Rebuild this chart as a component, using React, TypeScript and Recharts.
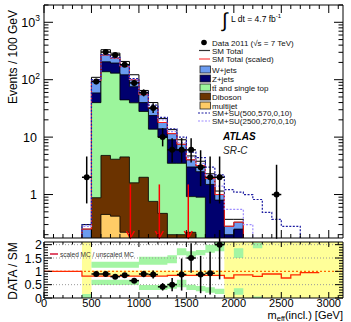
import React from 'react';
import { ComposedChart, Area, Line, Scatter, XAxis, YAxis, ErrorBar, ReferenceLine } from 'recharts';

const FONT = '"Liberation Sans", Arial, Helvetica, sans-serif';

// ---------- data ----------
// histogram bin lower edges (GeV), 100 GeV bins
const histEdges = [0, 100, 200, 300, 400, 500, 600, 700, 800, 900, 1000, 1100, 1200, 1300, 1400, 1500, 1600, 1700, 1800, 1900, 2000, 2100, 2200, 2300, 2400, 2500, 2600, 2700, 2800, 2900, 3000, 3100, 3200];

// MC components, bins starting at 400 GeV
const FIRST_BIN = 400;
const multijet = [0, 0, 0.45, 0.42, 0.22, 0, 0, 0, 0, 0, 0, 0, 0, 0, 0, 0, 0];
const diboson = [0, 0.88, 4.35, 3.7, 4.3, 1.6, 2.0, 0.76, 0.47, 0.2, 0.2, 0.22, 0, 0, 0, 0, 0];
const ttbar = [0, 39, 133, 126, 40, 38, 26, 13, 9.5, 3.3, 3.3, 0.7, 0.9, 0, 0, 0, 0];
const zjets = [0, 19, 67, 65, 77, 36, 12, 10, 4, 5.5, 2.5, 2.1, 1.6, 1.5, 0.8, 0.2, 0.25];
const wjets = [0.25, 36, 65, 43, 48, 24, 15, 8, 4, 2.5, 1.5, 1.0, 0.7, 0.4, 0.2, 0.08, 0.08];
const smTotal = [0.3, 110, 333, 290, 208, 122, 65, 40, 21, 13.5, 9, 4.7, 3.8, 2.3, 1.15, 0.37, 0.37];
const su500 = [0.3, 100, 275, 245, 175, 105, 60, 36, 22, 14, 10, 5.5, 4.4, 3.0, 2.2, 1.22, 1.1, 1.0, 0.82, 0.49, 0.37, 0.28, 0.28];
const su2500 = [0.28, 97, 272, 240, 172, 102, 57, 34, 20, 12.5, 8, 4.4, 3.5, 2.2, 1.4, 0.55, 0.55, 0.3];

// data points
const dataCenter = [450, 550, 650, 750, 850, 950, 1050, 1150, 1250, 1350, 1450, 1550, 1650, 1750, 1850, 2450];
const dataCount = [2, 93, 303, 270, 182, 88, 59, 32, 10, 6, 6, 6, 3, 2, 2, 1];
const dataErrDown = [1.3, 9.6, 17, 16, 13, 9.4, 7.7, 5.6, 3.1, 2.4, 2.4, 2.4, 1.6, 1.3, 1.3, 0.83];
const dataErrUp = [2.6, 10.7, 18, 17, 14, 10.4, 8.7, 6.7, 4.3, 3.6, 3.6, 3.6, 2.9, 2.6, 2.6, 2.3];

// red arrows
const arrowX = [910, 1215, 1520];
const arrowTop = [1.5, 1.5, 1.5];

// ratio panel
const ratioCenter = [550, 650, 750, 850, 950, 1050, 1150, 1250, 1350, 1450, 1550, 1650, 1750, 1850];
const ratioValue = [0.9, 0.9, 0.8, 0.85, 0.65, 0.9, 0.88, 0.42, 0.5, 0.88, 1.5, 0.88, 0.93, 2.0];
const ratioErr = [0.08, 0.05, 0.05, 0.06, 0.07, 0.12, 0.15, 0.14, 0.25, 0.6, 0.55, 0.7, 0.8, 1.3];
// scaled MC / unscaled MC, bins from 0 GeV
const ratioScale = [1, 1, 1, 1, 0.82, 0.82, 0.82, 0.82, 0.82, 0.82, 0.82, 0.82, 0.82, 0.85, 0.85, 0.85, 0.85, 0.85, 0.85, 0.75, 0.87, 0.87, 0.81, 0.9, 0.9, 0.75, 0.87, 0.95, 0.95];
// uncertainty bands, bins from 400 GeV
const yellowLo = [0, 0.82, 0.82, 0.82, 0.82, 0.82, 0.82, 0.82, 0.82, 0.82, 0.82, 0.82, 0.82, 0.82, 0.82, 0, 0, 0, 0, 0, 0, 0, 0, 0, 0, 0, 0, 0, 0];
const yellowHi = [2.1, 1.03, 1.03, 1.03, 1.03, 1.03, 1.03, 1.03, 1.03, 1.03, 1.03, 1.03, 1.03, 1.03, 1.03, 2.1, 2.1, 2.1, 2.1, 2.1, 2.1, 2.1, 2.1, 2.1, 2.1, 2.1, 2.1, 2.1, 2.1];
const greenUpLo = [0, 1.13, 1.13, 1.13, 1.13, 1.13, 1.25, 1.25, 1.25, 1.3, 1.6, 1.55, 1.6, 1.7, 1.75, 0, 1.5, 0, 1.87, 0, 0, 0, 0, 0, 0, 0, 0, 0, 0];
const greenUpHi = [0, 1.36, 1.36, 1.36, 1.36, 1.36, 1.55, 1.55, 1.55, 1.6, 1.87, 1.75, 1.8, 2.0, 2.1, 0, 1.87, 0, 2.06, 0, 0, 0, 0, 0, 0, 0, 0, 0, 0];
const greenDnLo = [0, 0.49, 0.49, 0.49, 0.49, 0.49, 0.3, 0.3, 0.3, 0.35, 0.4, 0.3, 0.25, 0.2, 0.15, 0, 0.12, 0, 0, 0, 0, 0, 0, 0, 0, 0, 0, 0, 0];
const greenDnHi = [0.15, 0.68, 0.68, 0.68, 0.68, 0.68, 0.49, 0.49, 0.49, 0.55, 0.68, 0.5, 0.45, 0.4, 0.35, 0, 0.37, 0, 0.06, 0, 0, 0, 0, 0, 0, 0, 0, 0, 0];

// axis ticks
const xMajorTicks = [0, 500, 1000, 1500, 2000, 2500, 3000];
const xTicks = [0, 100, 200, 300, 400, 500, 600, 700, 800, 900, 1000, 1100, 1200, 1300, 1400, 1500, 1600, 1700, 1800, 1900, 2000, 2100, 2200, 2300, 2400, 2500, 2600, 2700, 2800, 2900, 3000, 3100];
const logMajorTicks = [1, 10, 100, 1000];
const logLabelBase = ['1', '10', '10', '10'];
const logLabelExp = ['', '', '2', '3'];
const logTicks = [0.2, 0.3, 0.4, 0.5, 0.6, 0.7, 0.8, 0.9, 1, 2, 3, 4, 5, 6, 7, 8, 9, 10, 20, 30, 40, 50, 60, 70, 80, 90, 100, 200, 300, 400, 500, 600, 700, 800, 900, 1000, 2000];
const ratioMajorTicks = [0, 0.5, 1, 1.5, 2];
const ratioLabels = ['0', '0.5', '1', '1.5', '2'];
const ratioTicks = [0, 0.1, 0.2, 0.3, 0.4, 0.5, 0.6, 0.7, 0.8, 0.9, 1, 1.1, 1.2, 1.3, 1.4, 1.5, 1.6, 1.7, 1.8, 1.9, 2];

// ---------- colours ----------
const C_W = '#6b9bf0';
const C_Z = '#00006e';
const C_TT = '#9cf59c';
const C_DB = '#6b3300';
const C_MJ = '#ffcc66';
const C_YEL = '#ffff99';
const C_GRN = '#a3f5a3';

// ---------- tables ----------
const HIDDEN = 0.01;
const at = (arr: number[], x: number) => {
  const i = (x - FIRST_BIN) / 100;
  return i >= 0 && i < arr.length ? arr[i] : 0;
};
const pos = (v: number) => (v > 0 ? v : HIDDEN);

const mainRows = histEdges.map((x) => {
  const c1 = at(multijet, x);
  const c2 = c1 + at(diboson, x);
  const c3 = c2 + at(ttbar, x);
  const c4 = c3 + at(zjets, x);
  const c5 = c4 + at(wjets, x);
  return {
    x,
    multijet: pos(c1),
    diboson: pos(c2),
    ttbar: pos(c3),
    zjets: pos(c4),
    wjets: pos(c5),
    smTotal: pos(at(smTotal, x)),
    su500: pos(at(su500, x)),
    su2500: pos(at(su2500, x)),
  };
});

const dataPoints = dataCenter.map((x, i) => ({
  x,
  y: dataCount[i],
  ey: [dataErrDown[i], dataErrUp[i]],
  ex: 50,
}));

const ratioRows = histEdges.map((x) => {
  const k = x / 100;
  const scale = k < ratioScale.length ? ratioScale[k] : k === ratioScale.length ? ratioScale[k - 1] : null;
  const b = (x - FIRST_BIN) / 100;
  const ok = b >= 0 && b < yellowLo.length;
  return {
    x,
    scale,
    yellow: ok ? [yellowLo[b], yellowHi[b]] : [0, 0],
    gUp: ok ? [greenUpLo[b], greenUpHi[b]] : [0, 0],
    gDn: ok ? [greenDnLo[b], greenDnHi[b]] : [0, 0],
  };
});

const ratioPoints = ratioCenter.map((x, i) => ({ x, y: ratioValue[i], ey: ratioErr[i], ex: 50 }));

// ---------- ticks ----------
const isXMajor = (v: number) => xMajorTicks.includes(v);
const isRatioMajor = (v: number) => ratioMajorTicks.some((m) => Math.abs(m - v) < 1e-6);

const bottomTickMain = (p: any) => {
  const len = isXMajor(p.payload.value) ? 8 : 4;
  return <line x1={p.x} x2={p.x} y1={p.y} y2={p.y - len} stroke="#000" strokeWidth={1} />;
};
const topTick = (p: any) => {
  const len = isXMajor(p.payload.value) ? 8 : 4;
  return <line x1={p.x} x2={p.x} y1={p.y} y2={p.y + len} stroke="#000" strokeWidth={1} />;
};
const topTickRatio = (p: any) => {
  const len = isXMajor(p.payload.value) ? 5 : 2.5;
  return <line x1={p.x} x2={p.x} y1={p.y} y2={p.y + len} stroke="#000" strokeWidth={1} />;
};
const bottomTickRatio = (p: any) => {
  const v = p.payload.value;
  const major = isXMajor(v);
  return (
    <g>
      <line x1={p.x} x2={p.x} y1={p.y} y2={p.y - (major ? 6 : 3)} stroke="#000" strokeWidth={1} />
      {major && (
        <text x={p.x} y={p.y + 9} textAnchor="middle" fontSize={11} fontFamily={FONT} fill="#000">
          {String(v)}
        </text>
      )}
    </g>
  );
};
const logLeftTick = (p: any) => {
  const v = p.payload.value;
  const idx = logMajorTicks.indexOf(v);
  const major = idx >= 0;
  return (
    <g>
      <line x1={p.x} x2={p.x + (major ? 9 : 4.5)} y1={p.y} y2={p.y} stroke="#000" strokeWidth={1} />
      {major && (
        <text x={logLabelExp[idx] ? p.x - 4 : p.x - 7} y={p.y + 4.5} textAnchor="end" fontSize={12.5} fontFamily={FONT} fill="#000">
          {logLabelBase[idx]}
          {logLabelExp[idx] && (
            <tspan dy={-5.5} fontSize={8.5}>
              {logLabelExp[idx]}
            </tspan>
          )}
        </text>
      )}
    </g>
  );
};
const logRightTick = (p: any) => {
  const major = logMajorTicks.includes(p.payload.value);
  return <line x1={p.x} x2={p.x - (major ? 9 : 4.5)} y1={p.y} y2={p.y} stroke="#000" strokeWidth={1} />;
};
const ratioLeftTick = (p: any) => {
  const v = p.payload.value;
  const major = isRatioMajor(v);
  const idx = ratioMajorTicks.findIndex((m) => Math.abs(m - v) < 1e-6);
  return (
    <g>
      <line x1={p.x} x2={p.x + (major ? 8 : 4)} y1={p.y} y2={p.y} stroke="#000" strokeWidth={1} />
      {major && (
        <text x={p.x - 2} y={p.y + 4.5} textAnchor="end" fontSize={12.5} fontFamily={FONT} fill="#000">
          {ratioLabels[idx]}
        </text>
      )}
    </g>
  );
};
const ratioRightTick = (p: any) => {
  const major = isRatioMajor(p.payload.value);
  return <line x1={p.x} x2={p.x - (major ? 8 : 4)} y1={p.y} y2={p.y} stroke="#000" strokeWidth={1} />;
};

const arrowShape = (p: any) => {
  const { x1, y1, x2, y2 } = p;
  return (
    <g>
      <line x1={x1} y1={y1} x2={x2} y2={y2} stroke="#ff0000" strokeWidth={1.5} />
      <polyline points={`${x2 - 4},${y2 - 7} ${x2},${y2} ${x2 + 4},${y2 - 7}`} fill="none" stroke="#ff0000" strokeWidth={1.5} />
    </g>
  );
};

const dot = (p: any) => <circle cx={p.cx} cy={p.cy} r={3} fill="#000" />;

const legendRows = [
  { label: 'W+jets', color: C_W },
  { label: 'Z+jets', color: C_Z },
  { label: 'tt\u0304 and single top', color: C_TT },
  { label: 'Diboson', color: C_DB },
  { label: 'multijet', color: C_MJ },
];

const LEG_FS = 8;

export default function App() {
  const axisCommon = { tickLine: false, tickSize: 0, tickMargin: 0, interval: 0 as const, axisLine: { stroke: '#000', strokeWidth: 1 } };
  return (
    <div style={{ position: 'absolute', left: 0, top: 0, width: 351, height: 322, background: '#fff', overflow: 'hidden', fontFamily: FONT }}>
      <div style={{ position: 'absolute', left: 0, top: 0 }}>
        <ComposedChart width={351} height={245} data={mainRows} margin={{ top: 0, right: 0, bottom: 0, left: 0 }}>
          <XAxis xAxisId="b" dataKey="x" type="number" domain={[0, 3150]} allowDataOverflow ticks={xTicks} tick={bottomTickMain} height={7} {...axisCommon} />
          <XAxis xAxisId="t" orientation="top" dataKey="x" type="number" domain={[0, 3150]} allowDataOverflow ticks={xTicks} tick={topTick} height={5} {...axisCommon} />
          <YAxis yAxisId="l" type="number" scale="log" domain={[0.175, 2000]} allowDataOverflow ticks={logTicks} tick={logLeftTick} width={44} {...axisCommon} />
          <YAxis yAxisId="r" orientation="right" type="number" scale="log" domain={[0.175, 2000]} allowDataOverflow ticks={logTicks} tick={logRightTick} width={8} {...axisCommon} />

          <Area xAxisId="b" yAxisId="l" type="stepAfter" dataKey="wjets" fill={C_W} fillOpacity={1} stroke="#000" strokeWidth={0.8} dot={false} activeDot={false} isAnimationActive={false} />
          <Area xAxisId="b" yAxisId="l" type="stepAfter" dataKey="zjets" fill={C_Z} fillOpacity={1} stroke="#000" strokeWidth={0.8} dot={false} activeDot={false} isAnimationActive={false} />
          <Area xAxisId="b" yAxisId="l" type="stepAfter" dataKey="ttbar" fill={C_TT} fillOpacity={1} stroke="#000" strokeWidth={0.8} dot={false} activeDot={false} isAnimationActive={false} />
          <Area xAxisId="b" yAxisId="l" type="stepAfter" dataKey="diboson" fill={C_DB} fillOpacity={1} stroke="#000" strokeWidth={0.8} dot={false} activeDot={false} isAnimationActive={false} />
          <Area xAxisId="b" yAxisId="l" type="stepAfter" dataKey="multijet" fill={C_MJ} fillOpacity={1} stroke="#000" strokeWidth={0.8} dot={false} activeDot={false} isAnimationActive={false} />

          <Line xAxisId="b" yAxisId="l" type="stepAfter" dataKey="smTotal" stroke="#000" strokeWidth={1} dot={false} activeDot={false} isAnimationActive={false} />
          <Line xAxisId="b" yAxisId="l" type="stepAfter" dataKey="wjets" stroke="#ff2020" strokeWidth={1} dot={false} activeDot={false} isAnimationActive={false} />
          <Line xAxisId="b" yAxisId="l" type="stepAfter" dataKey="su2500" stroke="#9d8cff" strokeWidth={1.2} strokeDasharray="2 1.5" dot={false} activeDot={false} isAnimationActive={false} />
          <Line xAxisId="b" yAxisId="l" type="stepAfter" dataKey="su500" stroke="#1a1aa0" strokeWidth={1.2} strokeDasharray="2 1.5" dot={false} activeDot={false} isAnimationActive={false} />

          {arrowX.map((ax, i) => (
            <ReferenceLine
              key={ax}
              xAxisId="b"
              yAxisId="l"
              segment={[{ x: ax, y: arrowTop[i] }, { x: ax, y: 0.175 }]}
              stroke="#ff0000"
              shape={arrowShape}
            />
          ))}

          <Scatter xAxisId="b" yAxisId="l" data={dataPoints} dataKey="y" shape={dot} isAnimationActive={false}>
            <ErrorBar dataKey="ey" direction="y" width={0} stroke="#000" strokeWidth={1.5} isAnimationActive={false} />
            <ErrorBar dataKey="ex" direction="x" width={0} stroke="#000" strokeWidth={1.5} isAnimationActive={false} />
          </Scatter>
        </ComposedChart>
      </div>

      <div style={{ position: 'absolute', left: 0, top: 230 }}>
        <ComposedChart width={351} height={92} data={ratioRows} margin={{ top: 0, right: 0, bottom: 0, left: 0 }}>
          <XAxis xAxisId="b" dataKey="x" type="number" domain={[0, 3150]} allowDataOverflow ticks={xTicks} tick={bottomTickRatio} height={24} {...axisCommon} />
          <XAxis xAxisId="t" orientation="top" dataKey="x" type="number" domain={[0, 3150]} allowDataOverflow ticks={xTicks} tick={topTickRatio} height={12} {...axisCommon} />
          <YAxis yAxisId="l" type="number" domain={[0, 2.1]} allowDataOverflow ticks={ratioTicks} tick={ratioLeftTick} width={44} {...axisCommon} />
          <YAxis yAxisId="r" orientation="right" type="number" domain={[0, 2.1]} allowDataOverflow ticks={ratioTicks} tick={ratioRightTick} width={8} {...axisCommon} />

          <Area xAxisId="b" yAxisId="l" type="stepAfter" dataKey="yellow" fill={C_YEL} fillOpacity={1} stroke="none" dot={false} activeDot={false} isAnimationActive={false} />
          <Area xAxisId="b" yAxisId="l" type="stepAfter" dataKey="gUp" fill={C_GRN} fillOpacity={1} stroke="none" dot={false} activeDot={false} isAnimationActive={false} />
          <Area xAxisId="b" yAxisId="l" type="stepAfter" dataKey="gDn" fill={C_GRN} fillOpacity={1} stroke="none" dot={false} activeDot={false} isAnimationActive={false} />

          <ReferenceLine xAxisId="b" yAxisId="l" y={0.5} stroke="#999" strokeDasharray="1 2" />
          <ReferenceLine xAxisId="b" yAxisId="l" y={1.5} stroke="#999" strokeDasharray="1 2" />
          <ReferenceLine xAxisId="b" yAxisId="l" y={2} stroke="#999" strokeDasharray="1 2" />
          <ReferenceLine xAxisId="b" yAxisId="l" y={1} stroke="#ff6a00" strokeWidth={1.2} strokeDasharray="2 2" />

          <Line xAxisId="b" yAxisId="l" type="stepAfter" dataKey="scale" stroke="#ff2a00" strokeWidth={1.3} dot={false} activeDot={false} isAnimationActive={false} />

          <Scatter xAxisId="b" yAxisId="l" data={ratioPoints} dataKey="y" shape={dot} isAnimationActive={false}>
            <ErrorBar dataKey="ey" direction="y" width={0} stroke="#000" strokeWidth={1.5} isAnimationActive={false} />
            <ErrorBar dataKey="ex" direction="x" width={0} stroke="#000" strokeWidth={1.5} isAnimationActive={false} />
          </Scatter>
        </ComposedChart>
      </div>

      <svg width={351} height={322} style={{ position: 'absolute', left: 0, top: 0, pointerEvents: 'none' }}>
        {/* axis titles */}
        <text transform="translate(17,10) rotate(-90)" textAnchor="end" fontSize={12} fontFamily={FONT} fill="#000">
          Events / 100 GeV
        </text>
        <text transform="translate(17,271) rotate(-90)" textAnchor="middle" fontSize={12} fontFamily={FONT} fill="#000">
          DATA / SM
        </text>
        <text x={343} y={319.2} textAnchor="end" fontSize={11} fontFamily={FONT} fill="#000">
          m<tspan dy={1.5} fontSize={7.5}>eff</tspan>
          <tspan dy={-1.5}>(incl.)  [GeV]</tspan>
        </text>

        {/* luminosity */}
        <text x={222} y={27} fontSize={20} fontFamily={FONT} fill="#000">
          ∫
        </text>
        <text x={231} y={22} fontSize={8.5} fontFamily={FONT} fill="#000">
          L dt = 4.7 fb<tspan dy={-4} fontSize={6}>-1</tspan>
        </text>

        {/* legend */}
        <circle cx={204} cy={42.5} r={2.8} fill="#000" />
        <text x={212} y={45.5} fontSize={LEG_FS} fontFamily={FONT} fill="#111">
          Data 2011 (√s = 7 TeV)
        </text>
        <line x1={199} x2={210} y1={50.5} y2={50.5} stroke="#333" strokeWidth={1.2} />
        <text x={212} y={53.5} fontSize={LEG_FS} fontFamily={FONT} fill="#111">
          SM Total
        </text>
        <line x1={199} x2={210} y1={59} y2={59} stroke="#ff4040" strokeWidth={1.2} />
        <text x={212} y={62} fontSize={LEG_FS} fontFamily={FONT} fill="#111">
          SM Total (scaled)
        </text>
        {legendRows.map((r, i) => (
          <g key={r.label}>
            <rect x={200} y={66 + i * 9} width={10.5} height={7} fill={r.color} stroke="#222" strokeWidth={0.8} />
            <text x={212} y={72.5 + i * 9} fontSize={LEG_FS} fontFamily={FONT} fill="#111">
              {r.label}
            </text>
          </g>
        ))}
        <line x1={198} x2={210} y1={113} y2={113} stroke="#1a1aa0" strokeWidth={1.2} strokeDasharray="2 1.5" />
        <text x={212} y={116} fontSize={LEG_FS} fontFamily={FONT} fill="#111">
          SM+SU(500,570,0,10)
        </text>
        <line x1={198} x2={210} y1={121} y2={121} stroke="#9d8cff" strokeWidth={1.2} strokeDasharray="2 1.5" />
        <text x={212} y={124} fontSize={LEG_FS} fontFamily={FONT} fill="#111">
          SM+SU(2500,270,0,10)
        </text>

        <text x={223} y={140} fontSize={10} fontWeight="bold" fontStyle="italic" fontFamily={FONT} fill="#000">
          ATLAS
        </text>
        <text x={223} y={154} fontSize={10} fontStyle="italic" fontFamily={FONT} fill="#222">
          SR-C
        </text>

        {/* ratio legend */}
        <line x1={50} x2={58} y1={254} y2={254} stroke="#e0506a" strokeWidth={2} />
        <text x={60} y={256.5} fontSize={6.5} fontFamily={FONT} fill="#333">
          scaled MC / unscaled MC
        </text>
      </svg>
    </div>
  );
}
